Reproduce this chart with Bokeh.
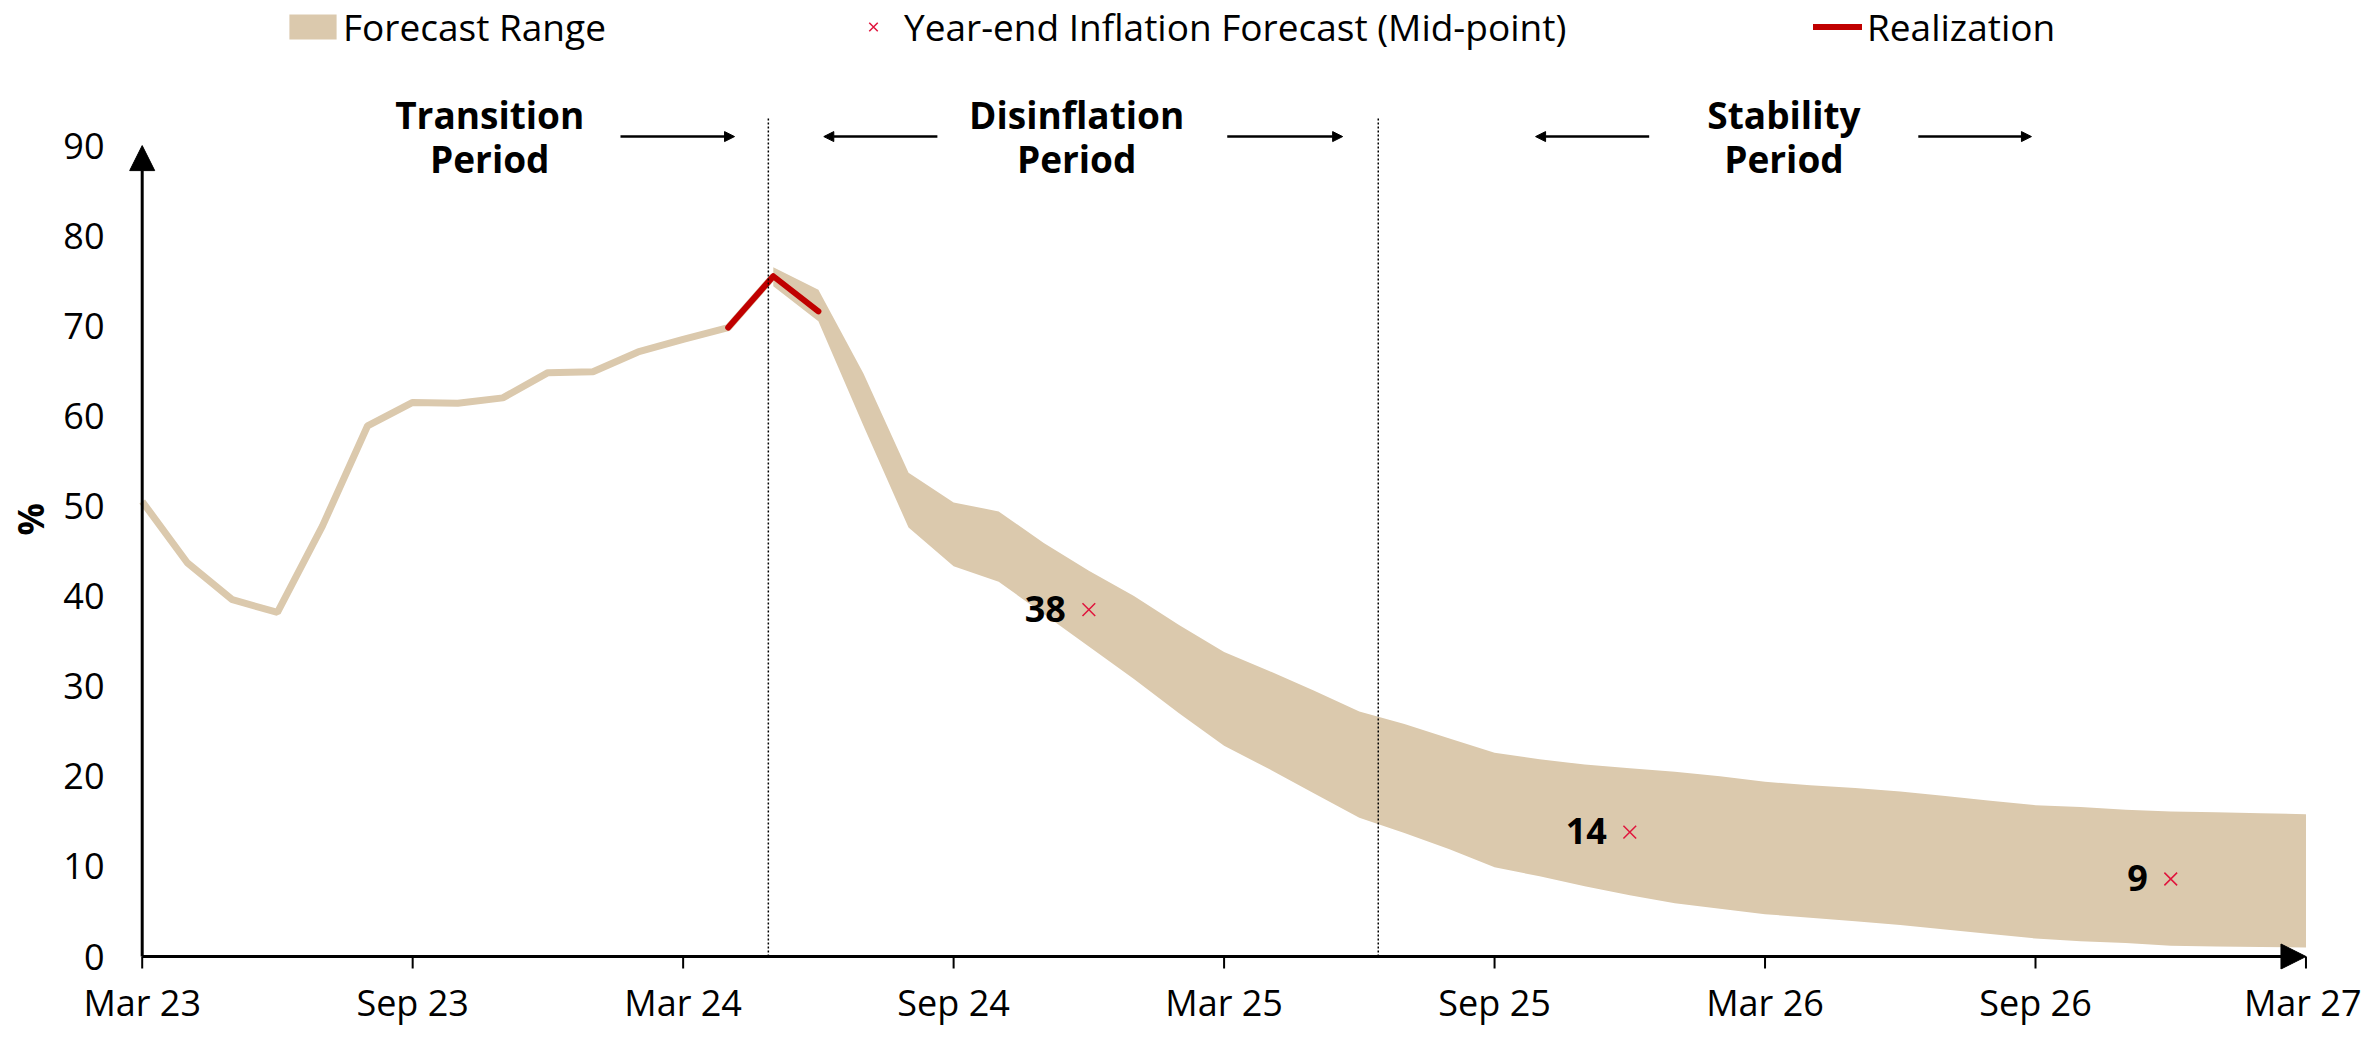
from bokeh.plotting import figure
from bokeh.models import (Range1d, FixedTicker, Legend, LegendItem, Arrow,
                          NormalHead, Title)
from bokeh.core.properties import value
from bokeh.embed import file_html
from bokeh.resources import INLINE

# ---------------- data ----------------
# x = month index, 0 = Mar 23 ... 48 = Mar 27
tick_positions = [0, 6, 12, 18, 24, 30, 36, 42, 48]
tick_labels = ["Mar 23", "Sep 23", "Mar 24", "Sep 24", "Mar 25",
               "Sep 25", "Mar 26", "Sep 26", "Mar 27"]
y_ticks = [0, 10, 20, 30, 40, 50, 60, 70, 80, 90]

# realized annual inflation (part of the forecast-range series before the forecast)
history_months = list(range(0, 15))
history_values = [50.5, 43.7, 39.6, 38.2, 47.8, 58.9, 61.5, 61.4, 62.0,
                  64.8, 64.9, 67.1, 68.5, 69.8, 75.5]

# forecast range (May 24 ... Mar 27)
forecast_months = list(range(14, 49))
forecast_upper = [76.5, 74.0, 64.7, 53.7, 50.4, 49.4, 45.9, 42.8, 40.0, 36.8,
                  33.8, 31.7, 29.5, 27.2, 25.8, 24.2, 22.6, 21.9, 21.3, 20.9,
                  20.5, 20.0, 19.4, 19.0, 18.7, 18.3, 17.8, 17.3, 16.8, 16.6,
                  16.3, 16.1, 16.0, 15.9, 15.8]
forecast_lower = [74.4, 70.5, 58.9, 47.6, 43.3, 41.6, 38.0, 34.4, 30.8, 27.0,
                  23.4, 20.8, 18.1, 15.4, 13.7, 11.9, 9.9, 8.9, 7.8, 6.8,
                  5.9, 5.3, 4.7, 4.3, 3.9, 3.5, 3.0, 2.5, 2.0, 1.7,
                  1.5, 1.2, 1.1, 1.05, 1.0]

# realization
realization_months = [13, 14, 15]
realization_values = [69.8, 75.5, 71.6]

# year-end mid-point forecasts
midpoint_months = [21, 33, 45]
midpoint_values = [38.5, 13.8, 8.6]
midpoint_labels = ["38", "14", "9"]

# period annotations
period_centers = [7.71, 20.73, 36.42]
period_line1 = ["Transition", "Disinflation", "Stability"]
period_line2 = ["Period", "Period", "Period"]
period_dividers = [13.89, 27.42]

# ---------------- style ----------------
BEIGE = "#DBC9AD"
RED = "#C00000"
XRED = "#E0143C"
FONT = "Open Sans"

W, H = 2361, 1036
FRAME_L = 128           # frame left (px)
FRAME_B = 969           # frame bottom (px from top)
Y_PX = 9.01             # px per percentage point
Y0 = 956                # px from top where y = 0
X_PX = 45.08            # px per month
X0 = 141.7              # px where x = 0 (Mar 23)
x_start = -(X0 - FRAME_L) / X_PX
x_end = 48.30
y_start = -(FRAME_B - Y0) / Y_PX
y_end = Y0 / Y_PX
frame_r = X0 + x_end * X_PX

p = figure(width=W, height=H, output_backend="svg", toolbar_location=None,
           x_range=Range1d(x_start, x_end), y_range=Range1d(y_start, y_end),
           min_border_left=FRAME_L, min_border_right=int(round(W - frame_r)),
           min_border_top=0, min_border_bottom=H - FRAME_B)
p.outline_line_color = None
p.xgrid.visible = False
p.ygrid.visible = False
p.background_fill_color = "white"
p.border_fill_color = "white"

# axes (labels from Bokeh axes; axis lines/arrows drawn at x=0 / y=0)
xa = p.xaxis[0]
xa.ticker = FixedTicker(ticks=tick_positions)
xa.major_label_overrides = {t: l for t, l in zip(tick_positions, tick_labels)}
xa.axis_line_color = None
xa.major_tick_line_color = None
xa.minor_tick_line_color = None
xa.major_tick_out = 0
xa.major_tick_in = 0
xa.major_label_text_font = FONT
xa.major_label_text_font_size = "36px"
xa.major_label_text_color = "black"
xa.major_label_standoff = 8

ya = p.yaxis[0]
ya.ticker = FixedTicker(ticks=y_ticks)
ya.axis_line_color = None
ya.major_tick_line_color = None
ya.minor_tick_line_color = None
ya.major_tick_out = 0
ya.major_tick_in = 0
ya.major_label_text_font = FONT
ya.major_label_text_font_size = "36px"
ya.major_label_text_color = "black"
ya.major_label_standoff = 24

p.add_layout(Title(text="%", align="left", offset=434, standoff=7,
                   vertical_align="top",
                   text_font=FONT, text_font_size="36px",
                   text_font_style="bold", text_color="black"), "left")

# forecast range band + realized history
band = p.varea(x=forecast_months, y1=forecast_lower, y2=forecast_upper,
               fill_color=BEIGE)
p.line(x=history_months, y=history_values, line_width=7, line_color=BEIGE)

# realization
real = p.line(x=realization_months, y=realization_values, line_width=6,
              line_color=RED, line_cap="round", line_join="round")

# mid-points
mid = p.scatter(x=midpoint_months, y=midpoint_values, marker="x", size=18,
                line_color=XRED, line_width=1.5)
p.text(x=midpoint_months, y=midpoint_values, text=midpoint_labels,
       x_offset=-23, y_offset=-1, text_align="right", text_baseline="alphabetic",
       text_font=value(FONT), text_font_size="36px", text_font_style="bold",
       text_color="black")

# period dividers
p.segment(x0=period_dividers, y0=[0, 0], x1=period_dividers, y1=[93.08, 93.08],
          line_color="black", line_width=1.5, line_dash="2 2")

# period labels
p.text(x=period_centers, y=[93.45] * 3, text=period_line1, text_align="center",
       text_baseline="alphabetic", text_font=value(FONT), text_font_size="37px",
       text_font_style="bold", text_color="black")
p.text(x=period_centers, y=[88.57] * 3, text=period_line2, text_align="center",
       text_baseline="alphabetic", text_font=value(FONT), text_font_size="37px",
       text_font_style="bold", text_color="black")

# period arrows
arrow_specs = [(10.61, 13.14), (17.64, 15.12), (24.07, 26.63),
               (33.43, 30.91), (39.40, 41.91)]
for xs, xe in arrow_specs:
    p.add_layout(Arrow(x_start=xs, y_start=91.0, x_end=xe, y_end=91.0,
                       line_color="black", line_width=2.5,
                       end=NormalHead(size=10, fill_color="black",
                                      line_color="black", line_width=1)))

# axis lines with arrow heads, and x ticks
p.add_layout(Arrow(x_start=0, y_start=0, x_end=0, y_end=90, line_color="black",
                   line_width=3, end=NormalHead(size=25, fill_color="black",
                                                line_color="black", line_width=1)))
p.add_layout(Arrow(x_start=0, y_start=0, x_end=48, y_end=0, line_color="black",
                   line_width=3, end=NormalHead(size=25, fill_color="black",
                                                line_color="black", line_width=1)))
p.segment(x0=tick_positions, y0=[0] * len(tick_positions), x1=tick_positions,
          y1=[-12 / Y_PX] * len(tick_positions), line_color="black", line_width=2)

# legends
def make_legend(label, renderer, loc, gw, gh, standoff):
    lg = Legend(items=[LegendItem(label=label, renderers=[renderer])],
                location=loc, orientation="horizontal",
                glyph_width=gw, glyph_height=gh, label_standoff=standoff,
                padding=0, margin=0, spacing=0,
                border_line_color=None, background_fill_alpha=0,
                label_text_font=FONT, label_text_font_size="37px",
                label_text_color="black")
    p.add_layout(lg)

LEG_Y = FRAME_B - 52
make_legend("Forecast Range", band, (283 - FRAME_L, LEG_Y), 59, 31, 1)
make_legend("Year-end Inflation Forecast (Mid-point)", mid,
            (858 - FRAME_L, LEG_Y), 30, 31, 16)
make_legend("Realization", real, (1813 - FRAME_L, LEG_Y), 49, 31, 5)

open("out.html", "w").write(file_html(p, INLINE))
